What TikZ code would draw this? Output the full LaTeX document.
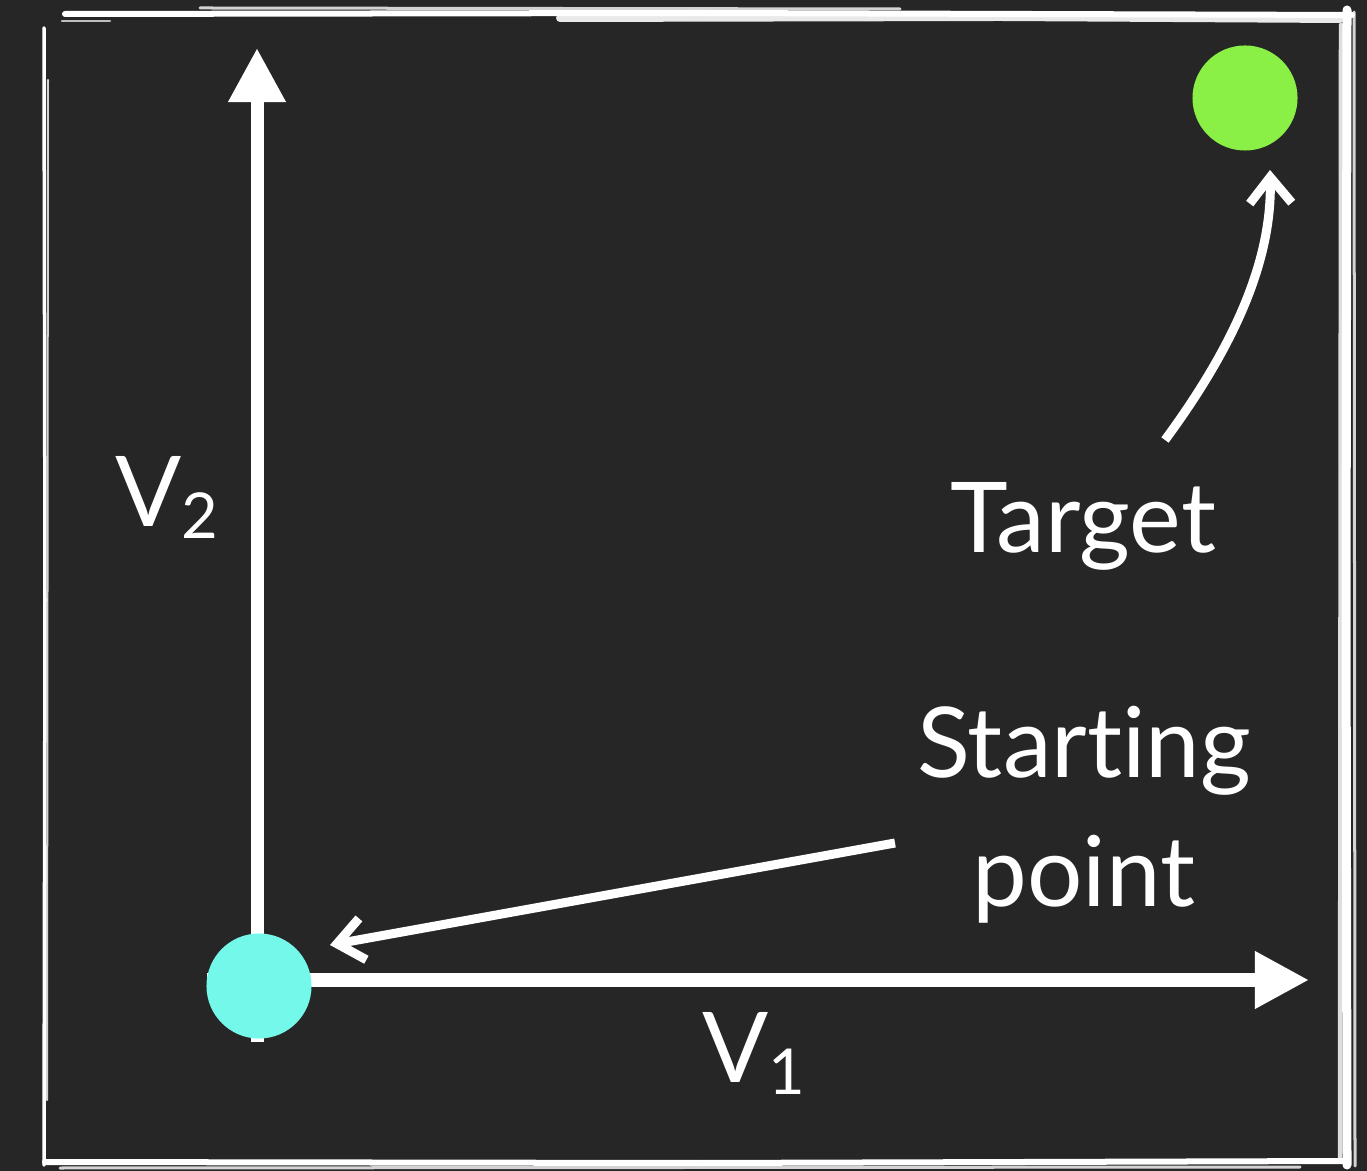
\documentclass[tikz,border=0pt]{standalone}
\usepackage{fontspec}
\setmainfont{Lato}[Ligatures=NoCommon]
\usetikzlibrary{arrows.meta}
\definecolor{bg}{HTML}{262626}
\definecolor{startc}{HTML}{74F8E9}
\definecolor{targetc}{HTML}{8AF046}
\newcommand\vsub[1]{\raisebox{-0.12cm}{\fontsize{18}{20}\selectfont #1}}
\begin{document}
\begin{tikzpicture}[x=0.01cm,y=-0.01cm,
  axis/.style={white, line width=0.13cm, -{Triangle[length=0.54cm,width=0.54cm]}},
  pointer/.style={white, line width=0.09cm, -{Straight Barb[length=0.26cm,width=0.42cm]}},
  dot/.style={circle, inner sep=0pt, minimum size=1.05cm},
  lbl/.style={text=white, font=\fontsize{27.8}{36.7}\selectfont, inner sep=0pt},
  frame/.style={white, line cap=round}]
\fill[bg] (0,0) rectangle (1367,1171);
\useasboundingbox (0,0) rectangle (1367,1171);
% sketchy frame
\draw[frame, line width=0.06cm] (65,14) -- (700,13) -- (1352,15);
\draw[frame, line width=0.08cm, opacity=0.9] (560,18) -- (1000,17) -- (1340,19);
\draw[frame, line width=0.03cm, opacity=0.8] (200,8) -- (900,9);
\draw[frame, line width=0.025cm, opacity=0.7] (62,21) -- (110,21);
\draw[frame, line width=0.09cm] (1347,10) -- (1346,600) -- (1347,1165);
\draw[frame, line width=0.045cm, opacity=0.85] (1341,25) -- (1340,1160);
\draw[frame, line width=0.03cm, opacity=0.8] (1354,12) -- (1355,1166);
\draw[frame, line width=0.06cm] (45,1162) -- (700,1163) -- (1348,1161);
\draw[frame, line width=0.03cm, opacity=0.8] (60,1168) -- (1300,1167);
\draw[frame, line width=0.035cm] (44,28) -- (45,600) -- (44,1165);
\draw[frame, line width=0.02cm, opacity=0.8] (48,80) -- (47,1100);
% points
\coordinate (v2tip) at (257,48);
\coordinate (v1tail) at (207,980);
\coordinate (v1tip) at (1309,980);
\coordinate (v2tail) at (257,1042);
\draw[axis] (v2tail) -- (v2tip);
\draw[axis] (v1tail) -- (v1tip);
\node[dot, fill=startc] (start) at (259,986) {};
\node[dot, fill=targetc] (target) at (1245,98) {};
% labels
\node[lbl, anchor=base west] (v2) at (115,527) {V\vsub{2}};
\node[lbl, anchor=base west] (v1) at (702,1082) {V\vsub{1}};
\node[lbl, anchor=base] (tlabel) at (1083,553) {Target};
\node[lbl, anchor=base, align=center] (slabel) at (1084,907) {Starting\\point};
% pointers
\coordinate (tfrom) at (1165,440);
\coordinate (tto) at (1270,170);
\draw[pointer] (tfrom) .. controls (1235,345) and (1272,260) .. (tto);
\coordinate (sfrom) at (895,843);
\coordinate (sto) at (330,945);
\draw[pointer] (sfrom) -- (sto);
\end{tikzpicture}
\end{document}
